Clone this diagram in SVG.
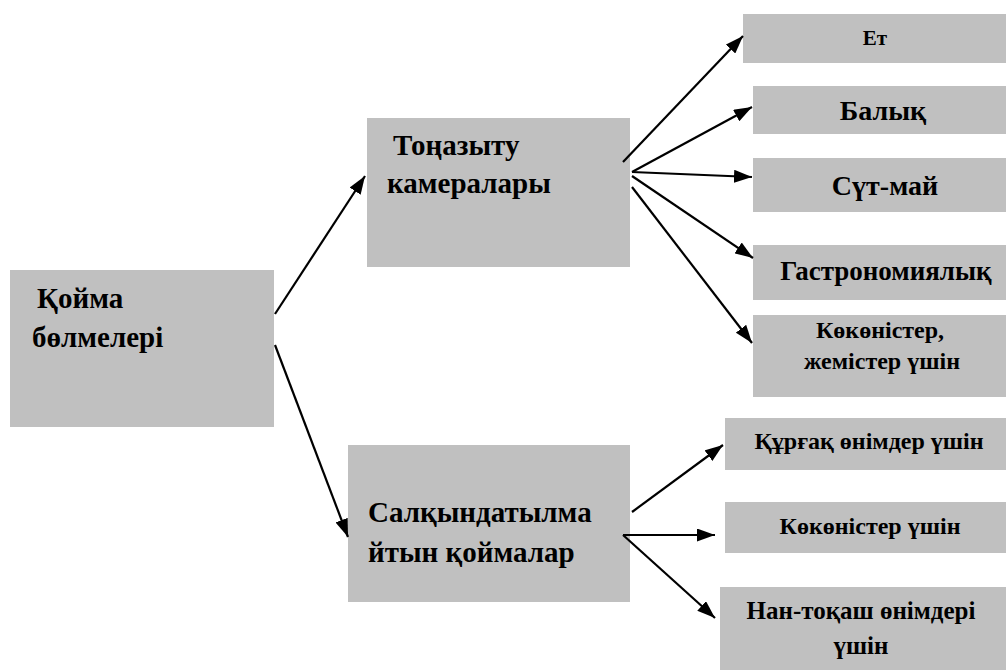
<svg xmlns="http://www.w3.org/2000/svg" width="1006" height="670" viewBox="0 0 1006 670">
<style>
.box{fill:#c0c0c0;stroke:none}
.t{font-weight:bold;fill:#000}
.c{text-anchor:middle}
.ln{stroke:#000;stroke-width:2.2;fill:none;marker-end:url(#ah)}
</style>
<defs>
<marker id="ah" viewBox="0 0 18 13" refX="18" refY="6.5" markerWidth="18" markerHeight="13" markerUnits="userSpaceOnUse" orient="auto">
<path d="M0,0 L18,6.5 L0,13 Z" fill="#000"/>
</marker>
</defs>
<rect width="1006" height="670" fill="#fff"/>
<g font-family="'Liberation Serif', 'Times New Roman', serif">
<g id="n-root">
<rect class="box" x="10" y="270" width="264" height="157"/>
<text class="t" x="37" y="308" font-size="29">Қойма</text>
<text class="t" x="32" y="347" font-size="29">бөлмелері</text>
</g>
<g id="n-fridge">
<rect class="box" x="367" y="118" width="263" height="149"/>
<text class="t" x="393" y="155" font-size="29">Тоңазыту</text>
<text class="t" x="387" y="193" font-size="29">камералары</text>
</g>
<g id="n-cool">
<rect class="box" x="348" y="445" width="282" height="157"/>
<text class="t" x="368" y="522" font-size="29">Салқындатылма</text>
<text class="t" x="368" y="562" font-size="29">йтын қоймалар</text>
</g>
<g id="n-et">
<rect class="box" x="743" y="14" width="263" height="49"/>
<text class="t c" x="875" y="45" font-size="21">Ет</text>
</g>
<g id="n-balyk">
<rect class="box" x="753" y="86" width="253" height="48"/>
<text class="t c" x="883" y="120" font-size="28">Балық</text>
</g>
<g id="n-sut">
<rect class="box" x="753" y="158" width="253" height="54"/>
<text class="t c" x="885" y="195" font-size="28">Сүт-май</text>
</g>
<g id="n-gastro">
<rect class="box" x="753" y="245" width="253" height="55"/>
<text class="t c" x="886" y="280" font-size="27">Гастрономиялық</text>
</g>
<g id="n-kok">
<rect class="box" x="753" y="315" width="253" height="82"/>
<text class="t c" x="880" y="338" font-size="24">Көкөністер,</text>
<text class="t c" x="882" y="369" font-size="24">жемістер үшін</text>
</g>
<g id="n-kurgak">
<rect class="box" x="725" y="418" width="281" height="52"/>
<text class="t c" x="869" y="449" font-size="24">Құрғақ өнімдер үшін</text>
</g>
<g id="n-kokushin">
<rect class="box" x="725" y="502" width="281" height="51"/>
<text class="t c" x="870" y="534" font-size="24">Көкөністер үшін</text>
</g>
<g id="n-nan">
<rect class="box" x="720" y="587" width="286" height="83"/>
<text class="t c" x="861" y="619" font-size="25">Нан-тоқаш өнімдері</text>
<text class="t c" x="861" y="654" font-size="25">үшін</text>
</g>
</g>
<g id="connectors">
<line class="ln" x1="275" y1="314" x2="365" y2="176"/>
<line class="ln" x1="275" y1="345" x2="348" y2="537"/>
<line class="ln" x1="623" y1="162" x2="743" y2="36"/>
<line class="ln" x1="632" y1="172" x2="752" y2="107"/>
<line class="ln" x1="632" y1="172" x2="752" y2="177"/>
<line class="ln" x1="632" y1="176" x2="753" y2="258"/>
<line class="ln" x1="632" y1="187" x2="752" y2="343"/>
<line class="ln" x1="632" y1="512" x2="723" y2="445"/>
<line class="ln" x1="623" y1="535" x2="715" y2="535"/>
<line class="ln" x1="623" y1="535" x2="715" y2="618"/>
</g>
</svg>
